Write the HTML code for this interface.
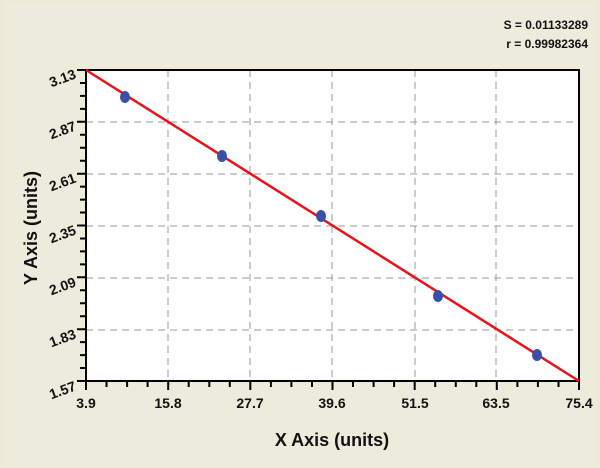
<!DOCTYPE html>
<html><head><style>
html,body{margin:0;padding:0;background:#ECE9D8;}
svg{display:block;}
text{font-family:"Liberation Sans",Arial,sans-serif;font-weight:bold;fill:#111;}
</style></head><body>
<svg width="600" height="468" viewBox="0 0 600 468">
<rect x="0" y="0" width="600" height="468" fill="#ECE9D8"/>
<rect x="3" y="2" width="594" height="463" fill="#EDEBDC"/>
<rect x="86" y="70" width="493" height="311" fill="#fff"/>
<g stroke="#999" stroke-width="1" stroke-dasharray="7,5">
<line x1="168" y1="70" x2="168" y2="381"/>
<line x1="250" y1="70" x2="250" y2="381"/>
<line x1="332" y1="70" x2="332" y2="381"/>
<line x1="415" y1="70" x2="415" y2="381"/>
<line x1="496" y1="70" x2="496" y2="381"/>
<line x1="86" y1="122" x2="579" y2="122"/>
<line x1="86" y1="174" x2="579" y2="174"/>
<line x1="86" y1="226" x2="579" y2="226"/>
<line x1="86" y1="278" x2="579" y2="278"/>
<line x1="86" y1="330" x2="579" y2="330"/>
</g>
<rect x="86" y="70" width="493" height="311" fill="none" stroke="#000" stroke-width="2"/>
<path stroke="#000" stroke-width="2" fill="none" d="
M86 381v9 M106.5 381v6 M127.1 381v6 M147.6 381v6 M168.2 381v9 M188.7 381v6 M209.3 381v6 M229.8 381v6 M250.3 381v9 M270.9 381v6 M291.4 381v6 M312 381v6 M332.5 381v9 M353 381v6 M373.6 381v6 M394.1 381v6 M414.7 381v9 M435.2 381v6 M455.8 381v6 M476.3 381v6 M496.8 381v9 M517.4 381v6 M537.9 381v6 M558.5 381v6 M579 381v9
M77 70h9 M80 83h6 M80 95.9h6 M80 108.9h6 M77 121.8h9 M80 134.8h6 M80 147.8h6 M80 160.7h6 M77 173.7h9 M80 186.6h6 M80 199.6h6 M80 212.5h6 M77 225.5h9 M80 238.5h6 M80 251.4h6 M80 264.4h6 M77 277.3h9 M80 290.3h6 M80 303.3h6 M80 316.2h6 M77 329.2h9 M80 342.1h6 M80 355.1h6 M80 368h6 M77 381h9"/>
<line x1="86" y1="70" x2="579" y2="381" stroke="#e8141c" stroke-width="2.5"/>
<g fill="#3a4fa8">
<ellipse cx="125" cy="97" rx="5" ry="6"/>
<ellipse cx="222" cy="156" rx="5" ry="6"/>
<ellipse cx="321" cy="216" rx="5" ry="6"/>
<ellipse cx="438" cy="296" rx="5" ry="6"/>
<ellipse cx="537" cy="355" rx="5" ry="6"/>
</g>
<g font-size="14" text-anchor="middle">
<text x="86" y="408">3.9</text>
<text x="168" y="408">15.8</text>
<text x="250" y="408">27.7</text>
<text x="332" y="408">39.6</text>
<text x="415" y="408">51.5</text>
<text x="496" y="408">63.5</text>
<text x="579" y="408">75.4</text>
</g>
<g font-size="14" text-anchor="end">
<text transform="translate(77,78) rotate(-20)">3.13</text>
<text transform="translate(77,130) rotate(-20)">2.87</text>
<text transform="translate(77,182) rotate(-20)">2.61</text>
<text transform="translate(77,234) rotate(-20)">2.35</text>
<text transform="translate(77,286) rotate(-20)">2.09</text>
<text transform="translate(77,338) rotate(-20)">1.83</text>
<text transform="translate(77,390) rotate(-20)">1.57</text>
</g>
<text x="332" y="446" font-size="18" text-anchor="middle">X Axis (units)</text>
<text transform="translate(37,228) rotate(-90)" font-size="18" text-anchor="middle">Y Axis (units)</text>
<text x="588" y="29" font-size="12" text-anchor="end">S = 0.01133289</text>
<text x="588" y="48" font-size="12" text-anchor="end">r = 0.99982364</text>
</svg>
</body></html>
